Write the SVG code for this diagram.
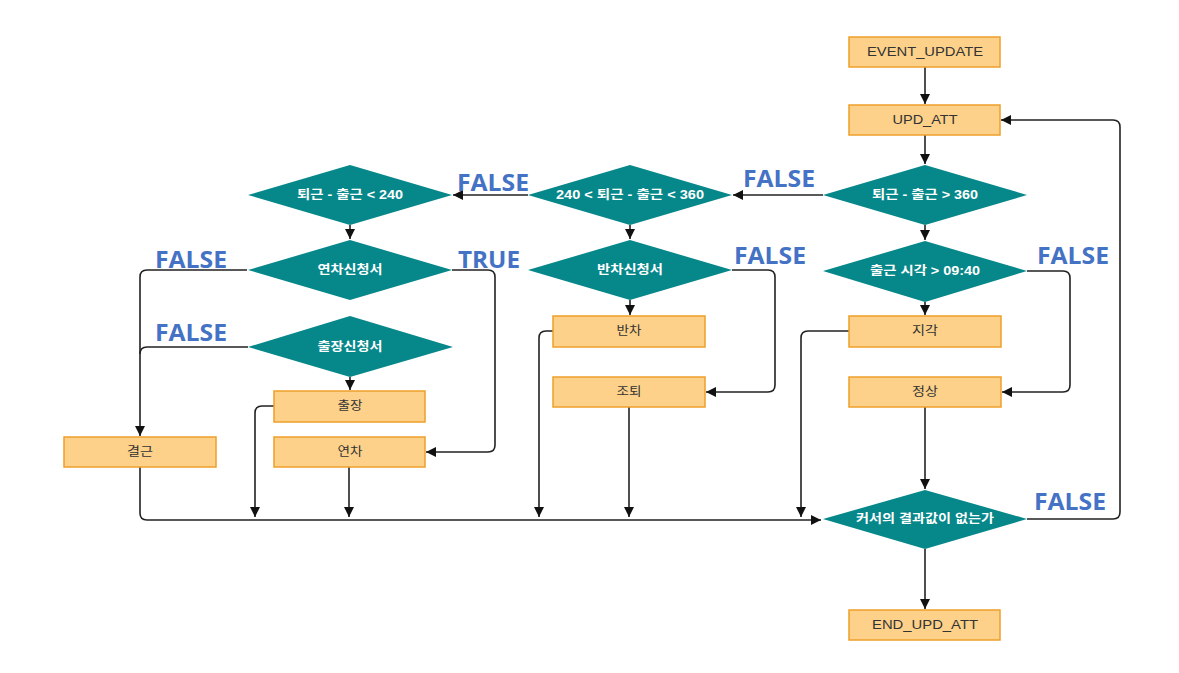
<svg xmlns="http://www.w3.org/2000/svg" width="1179" height="673" viewBox="0 0 1179 673">
<style>
.box{fill:#FDD189;stroke:#EE9F2A;stroke-width:1.5}
.dia{fill:#06878A;stroke:none}
.bt{font-family:"Liberation Sans","Noto Sans CJK KR",sans-serif;font-size:12px;fill:#333;text-anchor:middle;dominant-baseline:central}
.dt{font-family:"Liberation Sans","Noto Sans CJK KR",sans-serif;font-size:12px;font-weight:bold;fill:#fff;text-anchor:middle;dominant-baseline:central}
.lb{font-family:"Open Sans","Liberation Sans",sans-serif;font-size:24px;font-weight:bold;fill:#4472C4}
.c path{fill:none;stroke:#222;stroke-width:1.6}
.c path.a{marker-end:url(#ah)}
</style>
<defs>
<marker id="ah" markerUnits="userSpaceOnUse" markerWidth="10" markerHeight="10" refX="10" refY="5" orient="auto">
<path d="M0,0 L10,5 L0,10 z" fill="#111"/>
</marker>
</defs>
<rect width="1179" height="673" fill="#fff"/>
<g class="c" id="connectors">
<path class="a" d="M925,67 V104"/>
<path class="a" d="M925,135 V164"/>
<path class="a" d="M823,195 H733"/>
<path class="a" d="M528,195 H453"/>
<path class="a" d="M350,225 V239"/>
<path class="a" d="M630,225 V239"/>
<path class="a" d="M925,225 V240"/>
<path class="a" d="M247,270 H147 Q140,270 140,277 V436"/>
<path d="M248,347 H147 Q140,347 140,354"/>
<path class="a" d="M452,270 H488 Q495,270 495,277 V445 Q495,452 488,452 H426"/>
<path class="a" d="M350,377 V390"/>
<path class="a" d="M274,406 H262 Q255,406 255,413 V517"/>
<path class="a" d="M349,467 V517"/>
<path class="a" d="M140,467 V513 Q140,520 147,520 H821"/>
<path class="a" d="M630,300 V315"/>
<path class="a" d="M732,270 H768 Q775,270 775,277 V385 Q775,392 768,392 H706"/>
<path class="a" d="M553,331 H546 Q539,331 539,338 V517"/>
<path class="a" d="M629,407 V517"/>
<path class="a" d="M925,302 V315"/>
<path class="a" d="M1027,271 H1063 Q1070,271 1070,278 V385 Q1070,392 1063,392 H1002"/>
<path class="a" d="M849,331 H808 Q801,331 801,338 V517"/>
<path class="a" d="M925,407 V489"/>
<path class="a" d="M1027,519 H1113 Q1120,519 1120,512 V127 Q1120,120 1113,120 H1001"/>
<path class="a" d="M925,549 V609"/>
</g>
<g id="event_update"><rect class="box" x="849" y="37" width="151" height="30"/><text class="bt" x="925" y="52" textLength="116" lengthAdjust="spacingAndGlyphs">EVENT_UPDATE</text></g>
<g id="upd_att"><rect class="box" x="849" y="105" width="151" height="30"/><text class="bt" x="925" y="120" textLength="65" lengthAdjust="spacingAndGlyphs">UPD_ATT</text></g>
<g id="d_gt360"><polygon class="dia" points="925,165 1027,195 925,225 823,195"/><text class="dt" x="925" y="195" textLength="106" lengthAdjust="spacingAndGlyphs">퇴근 - 출근 &gt; 360</text></g>
<g id="d_240_360"><polygon class="dia" points="630,165 732,195 630,225 528,195"/><text class="dt" x="630" y="195" textLength="148" lengthAdjust="spacingAndGlyphs">240 &lt; 퇴근 - 출근 &lt; 360</text></g>
<g id="d_lt240"><polygon class="dia" points="350,165 452,195 350,225 248,195"/><text class="dt" x="350" y="195" textLength="106" lengthAdjust="spacingAndGlyphs">퇴근 - 출근 &lt; 240</text></g>
<g id="d_yeoncha"><polygon class="dia" points="350,240 452,270 350,300 248,270"/><text class="dt" x="350" y="270" textLength="65" lengthAdjust="spacingAndGlyphs">연차신청서</text></g>
<g id="d_bancha"><polygon class="dia" points="630,240 732,270 630,300 528,270"/><text class="dt" x="630" y="270" textLength="66" lengthAdjust="spacingAndGlyphs">반차신청서</text></g>
<g id="d_time"><polygon class="dia" points="925,241 1027,271 925,302 823,271"/><text class="dt" x="925" y="271" textLength="110" lengthAdjust="spacingAndGlyphs">출근 시각 &gt; 09:40</text></g>
<g id="d_chuljang"><polygon class="dia" points="350,316 453,347 350,377 248,347"/><text class="dt" x="350" y="347" textLength="65" lengthAdjust="spacingAndGlyphs">출장신청서</text></g>
<g id="chuljang"><rect class="box" x="274" y="391" width="151" height="31"/><text class="bt" x="350" y="406" textLength="25" lengthAdjust="spacingAndGlyphs">출장</text></g>
<g id="yeoncha"><rect class="box" x="274" y="437" width="151" height="30"/><text class="bt" x="350" y="452" textLength="25" lengthAdjust="spacingAndGlyphs">연차</text></g>
<g id="gyeolgeun"><rect class="box" x="64" y="437" width="152" height="30"/><text class="bt" x="140" y="452" textLength="26" lengthAdjust="spacingAndGlyphs">결근</text></g>
<g id="bancha"><rect class="box" x="553" y="316" width="152" height="31"/><text class="bt" x="629" y="331" textLength="25" lengthAdjust="spacingAndGlyphs">반차</text></g>
<g id="jotoe"><rect class="box" x="553" y="377" width="152" height="30"/><text class="bt" x="629" y="392" textLength="25" lengthAdjust="spacingAndGlyphs">조퇴</text></g>
<g id="jigak"><rect class="box" x="849" y="316" width="152" height="31"/><text class="bt" x="925" y="331" textLength="26" lengthAdjust="spacingAndGlyphs">지각</text></g>
<g id="jeongsang"><rect class="box" x="849" y="377" width="152" height="30"/><text class="bt" x="925" y="392" textLength="26" lengthAdjust="spacingAndGlyphs">정상</text></g>
<g id="d_cursor"><polygon class="dia" points="925,490 1027,519 925,549 823,519"/><text class="dt" x="925" y="519" textLength="138" lengthAdjust="spacingAndGlyphs">커서의 결과값이 없는가</text></g>
<g id="end_upd_att"><rect class="box" x="849" y="610" width="151" height="30"/><text class="bt" x="925" y="625" textLength="106" lengthAdjust="spacingAndGlyphs">END_UPD_ATT</text></g>
<g id="labels">
<text class="lb" x="457" y="191" textLength="72" lengthAdjust="spacingAndGlyphs">FALSE</text>
<text class="lb" x="743" y="187" textLength="72" lengthAdjust="spacingAndGlyphs">FALSE</text>
<text class="lb" x="155" y="268" textLength="72" lengthAdjust="spacingAndGlyphs">FALSE</text>
<text class="lb" x="458" y="268" textLength="62" lengthAdjust="spacingAndGlyphs">TRUE</text>
<text class="lb" x="734" y="264" textLength="72" lengthAdjust="spacingAndGlyphs">FALSE</text>
<text class="lb" x="1037" y="264" textLength="72" lengthAdjust="spacingAndGlyphs">FALSE</text>
<text class="lb" x="155" y="341" textLength="72" lengthAdjust="spacingAndGlyphs">FALSE</text>
<text class="lb" x="1034" y="510" textLength="72" lengthAdjust="spacingAndGlyphs">FALSE</text>
</g>
</svg>
